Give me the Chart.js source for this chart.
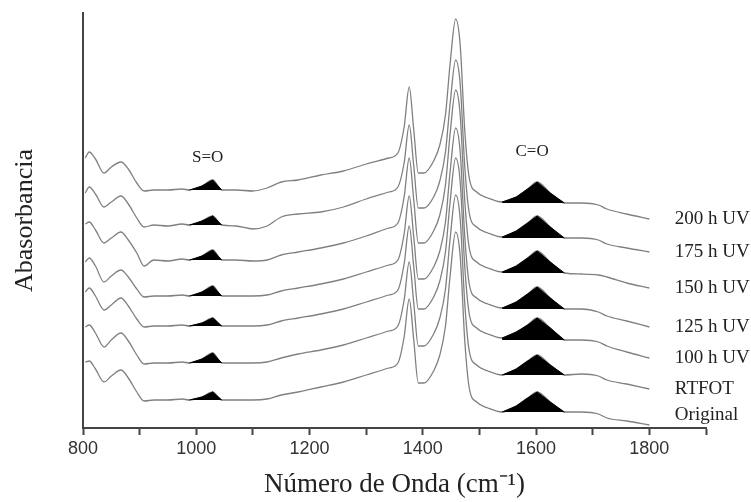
<!DOCTYPE html>
<html>
<head>
<meta charset="utf-8">
<script src="https://cdn.jsdelivr.net/npm/chart.js@4/dist/chart.umd.min.js"></script>
<style>
  html, body { margin: 0; padding: 0; background: #fff; }
  canvas { display: block; }
</style>
</head>
<body>
<canvas id="chart" width="751" height="502"></canvas>
<script>
const wavenumbers = [804, 811, 822, 837, 850, 867, 880, 895, 908, 925,
  950, 975, 988, 1010, 1029, 1045, 1070, 1100, 1125, 1150,
  1180, 1220, 1260, 1300, 1340, 1356, 1367, 1376, 1384, 1392,
  1402, 1420, 1430, 1440, 1448, 1458, 1466, 1474, 1482, 1495,
  1515, 1540, 1565, 1585, 1602, 1625, 1650, 1680, 1710, 1725,
  1760, 1800];

const uv200 = [270, 276, 269, 255, 261, 266, 259, 245, 237, 238,
  238, 239, 238, 242, 248, 238, 238, 237, 240, 246,
  248, 253, 257, 264, 270, 275, 301, 341, 298, 255,
  255, 268, 283, 313, 363, 409, 383, 298, 250, 236,
  230, 226, 231, 239, 246, 235, 225, 225, 223, 219,
  214, 209];
const uv175 = [235, 241, 234, 221, 226, 232, 224, 210, 201, 203,
  202, 204, 203, 207, 212, 203, 202, 199, 202, 211,
  214, 216, 221, 229, 236, 241, 265, 303, 262, 220,
  220, 232, 247, 276, 323, 368, 344, 262, 215, 201,
  195, 191, 197, 205, 212, 201, 190, 190, 188, 184,
  180, 176];
const uv150 = [204, 206, 198, 185, 190, 196, 188, 175, 162, 168,
  167, 169, 168, 172, 178, 168, 168, 167, 168, 173,
  176, 180, 185, 192, 200, 205, 231, 270, 228, 185,
  185, 198, 213, 243, 293, 338, 313, 228, 180, 166,
  160, 156, 162, 170, 177, 166, 155, 154, 153, 151,
  145, 140];
const uv125 = [166, 170, 162, 146, 152, 158, 151, 139, 131, 132,
  132, 133, 132, 136, 142, 132, 132, 132, 133, 137,
  140, 144, 149, 156, 163, 168, 194, 232, 191, 149,
  149, 162, 177, 206, 255, 300, 276, 192, 144, 130,
  124, 120, 126, 134, 141, 130, 119, 119, 116, 112,
  107, 101];
const uv100 = [136, 140, 132, 118, 123, 130, 122, 109, 101, 102,
  102, 103, 102, 105, 110, 102, 102, 102, 103, 107,
  110, 114, 119, 126, 133, 138, 164, 202, 161, 119,
  119, 132, 147, 176, 225, 270, 246, 162, 114, 100,
  94, 90, 96, 103, 110, 100, 88, 88, 86, 82,
  76, 70];
const rtfot = [101, 103, 95, 81, 88, 95, 87, 73, 64, 65,
  65, 66, 65, 69, 75, 65, 65, 65, 66, 70,
  74, 78, 83, 90, 97, 102, 128, 166, 125, 82,
  82, 95, 110, 139, 188, 233, 209, 125, 77, 63,
  57, 53, 59, 67, 73, 63, 53, 54, 52, 48,
  44, 39];
const original = [66, 67, 59, 46, 52, 58, 50, 36, 27, 28,
  28, 29, 28, 31, 36, 28, 28, 28, 29, 33,
  36, 41, 46, 53, 60, 65, 91, 129, 88, 45,
  45, 58, 73, 102, 151, 196, 172, 88, 40, 26,
  20, 16, 22, 30, 36, 26, 16, 16, 14, 10,
  7, 3];

const seriesNames = ['200 h UV', '175 h UV', '150 h UV', '125 h UV', '100 h UV', 'RTFOT', 'Original'];
const seriesValues = [uv200, uv175, uv150, uv125, uv100, rtfot, original];

const soBand = [988, 1045];
const coBand = [1540, 1650];
const bandLabels = [
  { text: 'S=O', x: 1020, y: 270 },
  { text: 'C=O', x: 1593, y: 276 },
];
const xTicks = [800, 1000, 1200, 1400, 1600, 1800];

function points(vals) {
  return wavenumbers.map((x, i) => ({ x: x, y: vals[i] }));
}

// black filled peaks, closed against a flat base
function bandDataset(vals, band) {
  const pts = points(vals).filter(p => p.x >= band[0] && p.x <= band[1]);
  return {
    data: pts,
    borderColor: '#000',
    borderWidth: 1,
    backgroundColor: '#000',
    pointRadius: 0,
    tension: 0,
    fill: { value: Math.min(pts[0].y, pts[pts.length - 1].y) },
  };
}

const datasets = [];
seriesValues.forEach(vals => {
  datasets.push(bandDataset(vals, soBand));
  datasets.push(bandDataset(vals, coBand));
});
seriesValues.forEach((vals, i) => {
  datasets.push({
    label: seriesNames[i],
    data: points(vals),
    borderColor: '#808080',
    borderWidth: 1.3,
    pointRadius: 0,
    cubicInterpolationMode: 'monotone',
    fill: false,
  });
});

const textLabels = {
  id: 'textLabels',
  afterDatasetsDraw(chart) {
    const ctx = chart.ctx;
    const xs = chart.scales.x;
    const ys = chart.scales.y;
    ctx.save();
    ctx.fillStyle = '#222';
    ctx.textBaseline = 'middle';
    ctx.textAlign = 'left';
    ctx.font = '19px "Liberation Serif", serif';
    seriesValues.forEach((vals, i) => {
      const last = Math.max(vals[vals.length - 1], 13);
      ctx.fillText(seriesNames[i], xs.getPixelForValue(1845), ys.getPixelForValue(last));
    });
    ctx.textAlign = 'center';
    ctx.font = '17px "Liberation Serif", serif';
    bandLabels.forEach(l => {
      ctx.fillText(l.text, xs.getPixelForValue(l.x), ys.getPixelForValue(l.y));
    });
    ctx.restore();
  }
};

new Chart(document.getElementById('chart').getContext('2d'), {
  type: 'line',
  data: { datasets: datasets },
  options: {
    responsive: false,
    animation: false,
    layout: { padding: { top: 13, right: 45, left: 0, bottom: 0 } },
    plugins: {
      legend: { display: false },
      tooltip: { enabled: false },
    },
    scales: {
      x: {
        type: 'linear',
        min: 800,
        max: 1900,
        afterFit: s => { s.height = 74; },
        afterBuildTicks: s => {
          const t = [];
          for (let v = 800; v <= 1900; v += 100) t.push({ value: v });
          s.ticks = t;
        },
        ticks: {
          autoSkip: false,
          maxRotation: 0,
          padding: 3,
          color: '#333',
          font: { family: '"Liberation Sans", Arial, sans-serif', size: 18 },
          callback: v => xTicks.includes(v) ? String(v) : '',
        },
        grid: {
          drawOnChartArea: false,
          drawTicks: true,
          tickLength: 7,
          tickColor: '#444',
          tickWidth: 2,
        },
        border: { color: '#444', width: 2 },
        title: {
          display: true,
          text: 'Número de Onda (cm⁻¹)',
          color: '#222',
          font: { family: '"Liberation Serif", serif', size: 27 },
          padding: { top: 4, bottom: 1 },
        },
      },
      y: {
        min: 0,
        max: 415,
        afterFit: s => { s.width = 83; },
        ticks: { display: false },
        grid: { drawOnChartArea: false, drawTicks: false },
        border: { color: '#444', width: 2 },
        title: {
          display: true,
          text: 'Abasorbancia',
          color: '#222',
          font: { family: '"Liberation Serif", serif', size: 26 },
          padding: { top: 10, bottom: 0 },
        },
      },
    },
  },
  plugins: [textLabels],
});
</script>
</body>
</html>
